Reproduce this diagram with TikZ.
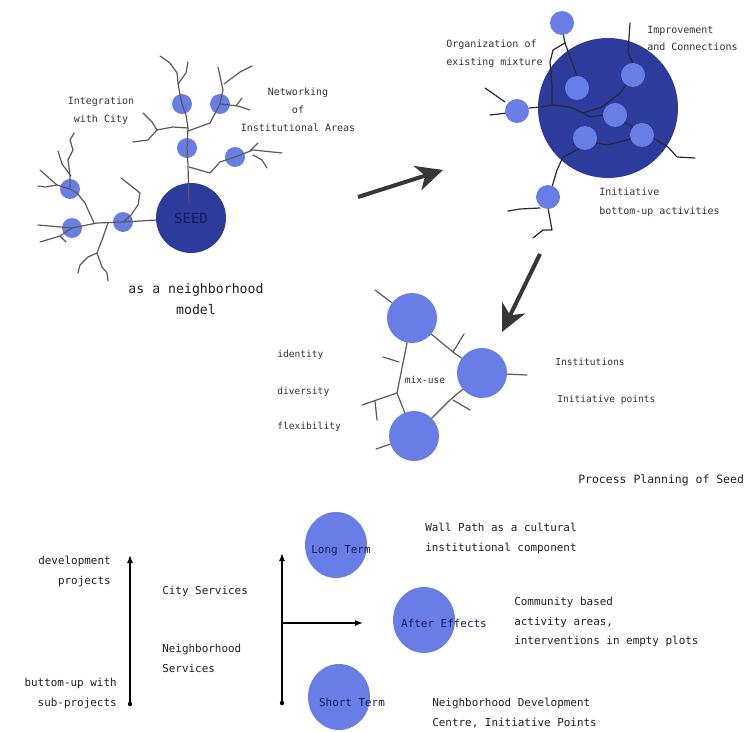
\documentclass[tikz,border=0pt]{standalone}
\usepackage{fontspec}
\setmainfont{DejaVu Sans Mono}
\usetikzlibrary{arrows.meta,shapes.geometric}
\definecolor{seeddark}{RGB}{44,59,156}
\definecolor{seedlight}{RGB}{104,126,230}
\definecolor{branch}{RGB}{90,90,90}
\definecolor{netline}{RGB}{40,40,50}
\definecolor{txt}{RGB}{50,50,50}
\definecolor{txtdark}{RGB}{32,32,32}
\definecolor{intxt}{RGB}{22,30,85}
\definecolor{bigarrow}{RGB}{55,55,55}
\begin{document}
\begin{tikzpicture}[x=0.75pt,y=-0.75pt,
  smalldot/.style={circle,fill=seedlight,draw=none,minimum size=15pt,inner sep=0pt},
  middot/.style={circle,fill=seedlight,draw=none,minimum size=18pt,inner sep=0pt},
  bigdot/.style={circle,fill=seedlight,draw=none,minimum size=37.5pt,inner sep=0pt},
  seednode/.style={circle,fill=seeddark,draw=none,minimum size=52.5pt,inner sep=0pt},
  hubnode/.style={circle,fill=seeddark,draw=none,minimum size=105pt,inner sep=0pt},
  termnode/.style={ellipse,fill=seedlight,draw=none,minimum width=46.5pt,minimum height=49.5pt,inner sep=0pt},
  br/.style={draw=branch,line width=0.9pt,line join=round,line cap=round},
  nl/.style={draw=netline,line width=0.9pt,line join=round,line cap=round},
  lbl/.style={text=txt,font=\fontsize{7.5}{13.5}\selectfont,inner sep=0pt},
  midlbl/.style={text=txt,font=\fontsize{7.2}{12}\selectfont,inner sep=0pt},
  botlbl/.style={text=txtdark,font=\fontsize{8.2}{15}\selectfont,inner sep=0pt},
  termlbl/.style={text=intxt,font=\fontsize{8.2}{10}\selectfont,inner sep=0pt},
  bigarr/.style={draw=bigarrow,line width=3pt,-{Stealth[length=20pt,width=19pt,inset=6pt]}},
  axisarr/.style={draw=black,line width=1.1pt,-{Latex[length=6pt,width=4.5pt]}}
]
\path[use as bounding box] (0,0) rectangle (745,731);

% ================= top-left: SEED tree =================
\node[seednode] (seed) at (191,218) {};
\node[smalldot] (c1) at (182,104) {};
\node[smalldot] (c2) at (220,104) {};
\node[smalldot] (c3) at (187,148) {};
\node[smalldot] (c4) at (235,157) {};
\node[smalldot] (c5) at (70,189) {};
\node[smalldot] (c6) at (72,228) {};
\node[smalldot] (c7) at (123,222) {};

% trunk
\draw[br] (189,203) -- (188,165) -- (c3.center) -- (188,128) -- (186,115) -- (c1.center)
  -- (180,95) -- (178,83) -- (177,73) -- (170,63) -- (160,56);
\draw[br] (178,84) -- (186,73) -- (188,62);
% left of trunk
\draw[br] (188,128) -- (173,127) -- (157,130) -- (148,140) -- (133,142);
\draw[br] (157,130) -- (152,122) -- (143,113);
% right upper
\draw[br] (188,131) -- (210,123) -- (c2.center) -- (223,90) -- (218,67);
\draw[br] (224,84) -- (240,72) -- (252,66);
\draw[br] (c2.center) -- (238,106) -- (250,110);
\draw[br] (236,106) -- (242,98);
% right lower
\draw[br] (189,167) -- (210,173) -- (220,162) -- (c4.center) -- (253,150) -- (282,153);
\draw[br] (250,151) -- (258,143);
\draw[br] (253,155) -- (262,160) -- (267,168);
% main horizontal
\draw[br] (seed) -- (c7.center) -- (97,223) -- (c6.center) -- (38,225);
% upper left
\draw[br] (94,223) -- (85,203) -- (77,193) -- (c5.center) -- (57,185) -- (40,170);
\draw[br] (57,185) -- (45,187) -- (38,186);
\draw[br] (c5.center) -- (70,175) -- (68,160) -- (73,150) -- (70,140) -- (74,133);
\draw[br] (71,176) -- (62,164) -- (58,151);
% lower left of c6
\draw[br] (c6.center) -- (60,236) -- (40,242);
\draw[br] (60,236) -- (66,242);
% bottom branch
\draw[br] (108,223) -- (102,240) -- (97,253) -- (88,257) -- (80,265) -- (78,273);
\draw[br] (97,253) -- (102,267) -- (107,273) -- (108,281);
% up from c7
\draw[br] (c7.center) -- (131,215) -- (138,205) -- (140,193) -- (130,185) -- (121,178);

\node[text=intxt,font=\fontsize{10.5}{12}\selectfont,inner sep=0pt] (seedtxt) at (seed) {SEED};

\node[lbl,align=center] (integ) at (101,111) {Integration\\with City};
\node[lbl,align=center] (netw) at (298,110) {Networking\\of\\Institutional Areas};
\node[text=txtdark,font=\fontsize{9.9}{15.75}\selectfont,align=center,inner sep=0pt] (model) at (196,299) {as a neighborhood\\model};

% arrow 1
\coordinate (a1s) at (358,197);
\coordinate (a1e) at (443,170);
\draw[bigarr] (a1s) -- (a1e);

% ================= top-right: hub =================
\node[hubnode] (hub) at (608,108) {};
% lines
\draw[nl] (563,33) -- (565,43) -- (553,50) -- (550,62) -- (552,87) -- (552,105);
\draw[nl] (565,43) -- (577,76);
\draw[nl] (529,108) -- (540,107) -- (553,105) -- (570,107) -- (583,113) -- (590,117) -- (603,115);
\draw[nl] (583,113) -- (602,107) -- (620,93) -- (633,75);
\draw[nl] (620,120) -- (630,125) -- (640,133);
\draw[nl] (593,142) -- (607,145) -- (627,140) -- (637,137);
\draw[nl] (653,138) -- (668,147) -- (677,157) -- (695,158);
\draw[nl] (633,63) -- (628,53) -- (630,23);
\draw[nl] (582,147) -- (573,152) -- (563,157) -- (557,170) -- (552,187);
\draw[nl] (548,208) -- (552,230) -- (543,230) -- (533,238);
\draw[nl] (508,211) -- (520,209) -- (540,208);
\draw[nl] (485,88) -- (505,102);
\draw[nl] (490,115) -- (507,113);
% small circles
\node[middot] (t1) at (562,23) {};
\node[middot] (t2) at (633,75) {};
\node[middot] (t3) at (577,88) {};
\node[middot] (t4) at (615,115) {};
\node[middot] (t5) at (585,138) {};
\node[middot] (t6) at (642,135) {};
\node[middot] (t7) at (517,111) {};
\node[middot] (t8) at (548,197) {};

\node[lbl,align=left,anchor=west] (org) at (446,54) {Organization of\\existing mixture};
\node[lbl,align=left,anchor=west,font=\fontsize{7.5}{12.75}\selectfont] (impr) at (647,38.5) {Improvement\\and Connections};
\node[lbl,align=left,anchor=west,font=\fontsize{7.5}{14.25}\selectfont] (init) at (599,202.5) {Initiative\\bottom-up activities};

% arrow 2
\coordinate (a2s) at (540,254);
\coordinate (a2e) at (502,332);
\draw[bigarr] (a2s) -- (a2e);

% ================= middle: mix-use =================
\node[bigdot] (ma) at (412,318) {};
\node[bigdot] (mb) at (482,373) {};
\node[bigdot] (mc) at (414,436) {};
\draw[br] (ma) -- (397,393) -- (mc);
\draw[br] (ma) -- (453,352) -- (mb);
\draw[br] (mb) -- (450,400) -- (mc);
\draw[br] (375,290) -- (ma);
\draw[br] (453,352) -- (464,334);
\draw[br] (383,357) -- (399,362);
\draw[br] (397,393) -- (362,405);
\draw[br] (375,401) -- (377,420);
\draw[br] (453,400) -- (470,410);
\draw[br] (mb) -- (527,375);
\draw[br] (mc) -- (376,449);

\node[midlbl] (mix) at (425,380) {mix-use};
\node[midlbl,anchor=west] (iden) at (277,355) {identity};
\node[midlbl,anchor=west] (divs) at (277,392) {diversity};
\node[midlbl,anchor=west] (flex) at (277,427) {flexibility};
\node[midlbl,anchor=west] (inst) at (555,362) {Institutions};
\node[midlbl,anchor=west] (initp) at (557,400) {Initiative points};
\node[text=txtdark,font=\fontsize{8.6}{10}\selectfont,inner sep=0pt,anchor=west] (proc) at (578,480) {Process Planning of Seed};

% ================= bottom =================
\node[botlbl,align=right,anchor=east] (dev) at (111,571.5) {development\\projects};
\node[botlbl,align=right,anchor=east] (butt) at (117,693.5) {buttom-up with\\sub-projects};
\coordinate (l1b) at (130,704);
\coordinate (l1t) at (130,555);
\fill (l1b) circle (2.2);
\draw[axisarr] (l1b) -- (l1t);

\node[botlbl,anchor=west] (city) at (162,591) {City Services};
\node[botlbl,align=left,anchor=west] (neigh) at (162,658) {Neighborhood\\Services};

\coordinate (l2b) at (282,703);
\coordinate (l2t) at (282,553);
\coordinate (l2m) at (282,623);
\fill (l2b) circle (2.2);
\draw[axisarr] (l2b) -- (l2t);

\node[termnode] (lt) at (336,545) {};
\node[termnode] (ae) at (424,620) {};
\node[termnode] (st) at (339,697) {};
\draw[axisarr] (l2m) -- (363,623);

\node[termlbl] (ltt) at (341,551) {Long Term};
\node[termlbl] (aet) at (444,623) {After Effects};
\node[termlbl] (stt) at (352,702) {Short Term};

\node[botlbl,align=left,anchor=west] (wall) at (425,538) {Wall Path as a cultural\\institutional component};
\node[botlbl,align=left,anchor=west,font=\fontsize{8.2}{14.6}\selectfont] (comm) at (514,622) {Community based\\activity areas,\\interventions in empty plots};
\node[botlbl,align=left,anchor=west] (ndc) at (432,713.5) {Neighborhood Development\\Centre, Initiative Points};

\end{tikzpicture}
\end{document}
